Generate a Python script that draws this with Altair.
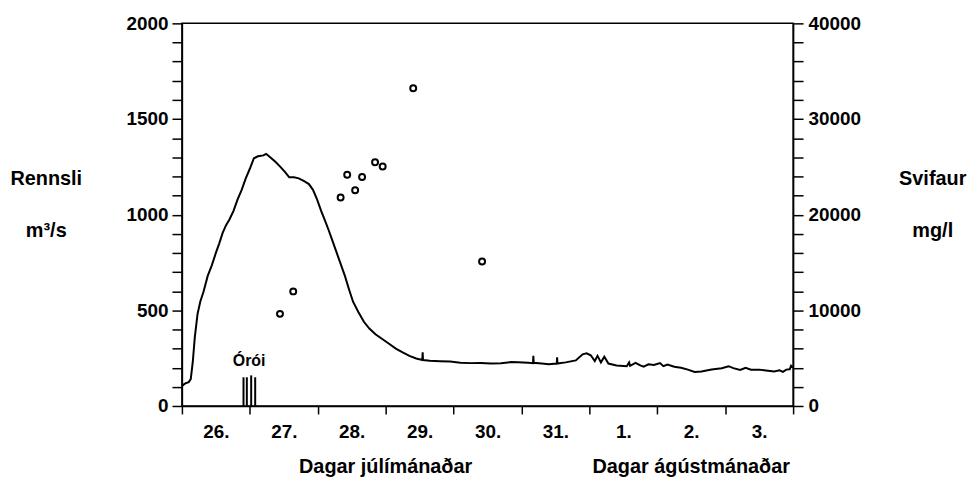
import json
import altair as alt
import pandas as pd

# ---- data ----
flow_day = [0.00, 0.05, 0.10, 0.13, 0.16, 0.19, 0.23, 0.27, 0.32, 0.38, 0.44, 0.50, 0.55, 0.60, 0.65,
            0.70, 0.76, 0.82, 0.88, 0.94, 1.00, 1.06, 1.12, 1.20, 1.24, 1.30, 1.38, 1.45, 1.52, 1.58,
            1.65, 1.72, 1.80, 1.87, 1.93, 1.99, 2.05, 2.10, 2.16, 2.22, 2.28, 2.34, 2.40, 2.46, 2.52,
            2.60, 2.68, 2.76, 2.85, 2.95, 3.05, 3.15, 3.25, 3.35, 3.45, 3.54, 3.545, 3.55, 3.65, 3.80,
            3.95, 4.10, 4.25, 4.40, 4.55, 4.70, 4.85, 4.95, 5.10, 5.17, 5.175, 5.18, 5.30, 5.40, 5.52,
            5.525, 5.53, 5.65, 5.80, 5.90, 5.96, 6.02, 6.08, 6.12, 6.17, 6.22, 6.28, 6.40, 6.55, 6.585,
            6.60, 6.68, 6.75, 6.80, 6.87, 6.95, 7.04, 7.09, 7.15, 7.25, 7.35, 7.45, 7.55, 7.65, 7.80,
            7.95, 8.05, 8.12, 8.22, 8.30, 8.38, 8.50, 8.60, 8.72, 8.80, 8.85, 8.90, 8.95, 8.97, 9.00]
flow_q = [105, 118, 125, 140, 230, 360, 480, 545, 600, 680, 735, 800, 850, 905, 945,
          975, 1020, 1080, 1130, 1190, 1240, 1295, 1305, 1310, 1318, 1300, 1275, 1250, 1222, 1195,
          1195, 1190, 1175, 1160, 1130, 1080, 1020, 975, 920, 860, 800, 740, 680, 610, 545,
          490, 440, 405, 375, 350, 325, 300, 280, 262, 248, 240, 280, 240, 236, 234,
          232, 226, 224, 225, 222, 223, 230, 228, 226, 224, 262, 226, 222, 218, 222,
          254, 222, 228, 238, 270, 275, 265, 235, 262, 228, 258, 222, 212, 208, 228,
          210, 225, 212, 206, 218, 214, 224, 208, 216, 205, 200, 190, 178, 180, 191,
          197, 208, 198, 188, 200, 190, 190, 186, 180, 186, 178, 190, 192, 210, 200]

sed_day = [1.444, 1.639, 2.337, 2.434, 2.551, 2.653, 2.844, 2.956, 3.406, 4.420]
sed_val = [9630, 11980, 21790, 24180, 22550, 23930, 25490, 25040, 33220, 15100]

tremor_day = [0.907, 0.956, 1.020, 1.079]
tremor_h = [150, 150, 160, 150]

day_ticks = list(range(10))
day_labels = ["26.", "27.", "28.", "29.", "30.", "31.", "1.", "2.", "3.", ""]
q_ticks = list(range(0, 2001, 100))
s_ticks = list(range(0, 40001, 2000))

flow = pd.DataFrame({"day": flow_day, "q": flow_q})
sed = pd.DataFrame({"day": sed_day, "s": sed_val})
trem = pd.DataFrame({"day": tremor_day, "h": tremor_h, "zero": [0] * len(tremor_day)})

FONT = "Liberation Sans"
W, H = 615, 385
LBL = dict(labelColor="black", labelFont=FONT, labelFontSize=19, labelFontWeight="bold",
           labelOverlap=False, labelBound=False, labelFlush=False,
           domainColor="black", domainWidth=1.5, tickColor="black", tickWidth=1.5, grid=False)
TTL = dict(titleFont=FONT, titleFontSize=20, titleFontWeight="bold", titleColor="black",
           titleAngle=0, titleAlign="center", titleBaseline="middle", titleLineHeight=52)

xscale = alt.Scale(domain=[0, 9], nice=False, zero=False)
xaxis = alt.Axis(values=day_ticks, labelExpr=json.dumps(day_labels) + "[datum.value]",
                 labelOffset=W / 9 / 2, tickSize=8, labelPadding=9, title=None, **LBL)

yscale = alt.Scale(domain=[0, 2000], nice=False)
yaxis = alt.Axis(values=q_ticks, labelExpr="datum.value % 500 == 0 ? datum.value : ''",
                 tickSize=10, labelPadding=4, title=["Rennsli", "m³/s"],
                 titleX=-137, titleY=156, **LBL, **TTL)

line = alt.Chart(flow).mark_line(color="black", strokeWidth=2, interpolate="linear").encode(
    x=alt.X("day:Q", scale=xscale, axis=xaxis),
    y=alt.Y("q:Q", scale=yscale, axis=yaxis),
)

rules = alt.Chart(trem).mark_rule(color="black", strokeWidth=2).encode(
    x=alt.X("day:Q", scale=xscale, axis=xaxis),
    y=alt.Y("zero:Q", scale=yscale, axis=yaxis),
    y2="h:Q",
)

oroi = alt.Chart(pd.DataFrame({"t": ["Órói"]})).mark_text(
    font=FONT, fontSize=16, fontWeight="bold", color="black", baseline="middle", align="center"
).encode(
    x=alt.XDatum(0.99, type="quantitative", scale=xscale, axis=xaxis),
    y=alt.YDatum(235, type="quantitative", scale=yscale, axis=yaxis),
    text="t:N",
)

xtitles = alt.Chart(pd.DataFrame({"t": ["Dagar júlímánaðar", "Dagar ágústmánaðar"], "day": [3.0, 7.5]})).mark_text(
    font=FONT, fontSize=20, fontWeight="bold", color="black", baseline="middle", align="center"
).encode(x=alt.X("day:Q", scale=xscale, axis=xaxis), y=alt.value(H + 61), text="t:N")

left = alt.layer(line, rules, oroi, xtitles)

points = alt.Chart(sed).mark_point(shape="circle", filled=False, color="black", size=36,
                                   strokeWidth=2, opacity=1).encode(
    x=alt.X("day:Q", scale=xscale, axis=xaxis),
    y=alt.Y("s:Q", scale=alt.Scale(domain=[0, 40000], nice=False),
            axis=alt.Axis(orient="right", values=s_ticks,
                          labelExpr="datum.value % 10000 == 0 ? datum.value : ''",
                          tickSize=10, labelPadding=5, title=["Svifaur", "mg/l"],
                          titleX=140, titleY=156, **LBL, **TTL)),
)

chart = alt.layer(left, points).resolve_scale(y="independent").properties(
    width=W, height=H, background="white",
    autosize=alt.AutoSizeParams(type="none"),
    padding={"left": 175, "top": 14, "right": 178, "bottom": 70},
).configure_view(stroke="black", strokeWidth=1.5)

chart.save("out.html", embed_options={"renderer": "svg", "actions": False})
